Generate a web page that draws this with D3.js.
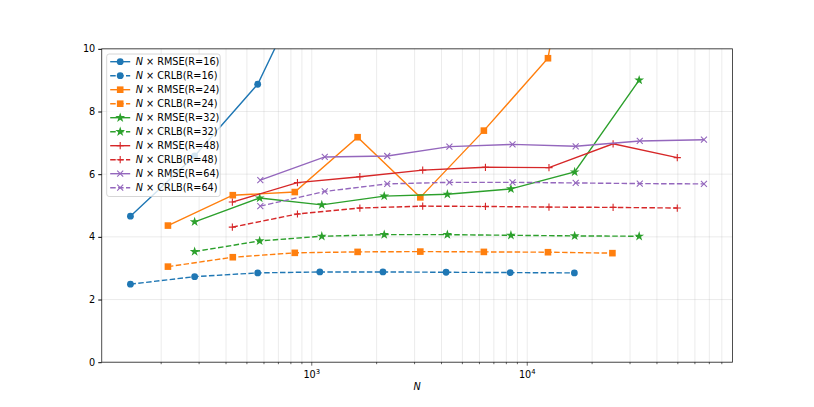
<!DOCTYPE html>
<html>
<head>
<meta charset="utf-8">
<script src="https://cdn.jsdelivr.net/npm/d3@7"></script>
<style>
  body { margin: 0; background: #fff; }
  svg { font-family: "DejaVu Sans", sans-serif; }
</style>
</head>
<body>
<svg id="chart" width="814" height="407"></svg>
<script>
// N values per R
var nR16 = [144, 286, 561, 1090, 2139, 4201, 8337, 16548];
var nR24 = [215, 430, 834, 1632, 3190, 6290, 12480, 24850];
var nR32 = [286, 573, 1113, 2169, 4259, 8400, 16600, 33070];
var nR48 = [428, 858, 1672, 3272, 6397, 12615, 25030, 49700];
var nR64 = [577, 1149, 2240, 4352, 8543, 16780, 33290, 66070];

// N x RMSE
var rmseR16 = [4.66, 6.58, 8.87, 13.0, 19.0, 27.0, 38.0, 52.0];
var rmseR24 = [4.36, 5.33, 5.43, 7.18, 5.26, 7.39, 9.70, 21.0];
var rmseR32 = [4.48, 5.24, 5.02, 5.30, 5.36, 5.53, 6.07, 9.00];
var rmseR48 = [5.11, 5.73, 5.92, 6.13, 6.22, 6.21, 6.97, 6.53];
var rmseR64 = [5.81, 6.55, 6.58, 6.88, 6.95, 6.89, 7.06, 7.10];

// N x CRLB
var crlbR16 = [2.49, 2.73, 2.85, 2.88, 2.88, 2.87, 2.86, 2.85];
var crlbR24 = [3.05, 3.35, 3.49, 3.52, 3.53, 3.52, 3.51, 3.48];
var crlbR32 = [3.53, 3.87, 4.02, 4.07, 4.07, 4.05, 4.03, 4.02];
var crlbR48 = [4.31, 4.73, 4.92, 4.98, 4.97, 4.95, 4.94, 4.92];
var crlbR64 = [4.98, 5.45, 5.69, 5.74, 5.74, 5.72, 5.70, 5.69];

var rValues = [16, 24, 32, 48, 64];
var colors = ["#1f77b4", "#ff7f0e", "#2ca02c", "#d62728", "#9467bd"];
var markers = ["circle", "square", "star", "plus", "cross"];
var yTicks = [0, 2, 4, 6, 8, 10];

var nList = [nR16, nR24, nR32, nR48, nR64];
var rmseList = [rmseR16, rmseR24, rmseR32, rmseR48, rmseR64];
var crlbList = [crlbR16, crlbR24, crlbR32, crlbR48, crlbR64];

var svg = d3.select("#chart");
var pL = 101.75, pR = 732.6, pT = 48.84, pB = 362.2;

// matplotlib style 5% margins in log space
var allN = [].concat.apply([], nList);
var lo = Math.log10(d3.min(allN)), hi = Math.log10(d3.max(allN));
var pad = (hi - lo) * 0.05;
var x = d3.scaleLog().domain([Math.pow(10, lo - pad), Math.pow(10, hi + pad)]).range([pL, pR]);
var y = d3.scaleLinear().domain([0, 10]).range([pB, pT]);

// grid
var minor = [];
for (var e = 2; e <= 4; e++) {
    for (var m = 1; m <= 9; m++) {
        var v = m * Math.pow(10, e);
        if (v >= x.domain()[0] && v <= x.domain()[1]) minor.push(v);
    }
}
var isMajor = d => Math.abs(Math.log10(d) - Math.round(Math.log10(d))) < 1e-9;
var grid = svg.append("g");
grid.selectAll(".vx").data(minor).enter().append("line")
    .attr("x1", d => x(d)).attr("x2", d => x(d))
    .attr("y1", pT).attr("y2", pB)
    .attr("stroke", "#b0b0b0").attr("stroke-opacity", 0.3).attr("stroke-width", 0.8);
grid.selectAll(".hy").data(yTicks).enter().append("line")
    .attr("x1", pL).attr("x2", pR)
    .attr("y1", d => y(d)).attr("y2", d => y(d))
    .attr("stroke", "#b0b0b0").attr("stroke-opacity", 0.3).attr("stroke-width", 0.8);

svg.append("clipPath").attr("id", "clip").append("rect")
    .attr("x", pL).attr("y", pT).attr("width", pR - pL).attr("height", pB - pT);

function drawMarker(g, kind, color) {
    if (kind === "circle") {
        g.append("circle").attr("r", 3.4).attr("fill", color);
    } else if (kind === "square") {
        g.append("rect").attr("x", -3.3).attr("y", -3.3).attr("width", 6.6).attr("height", 6.6).attr("fill", color);
    } else if (kind === "star") {
        g.append("path").attr("d", d3.symbol().type(d3.symbolStar).size(30)()).attr("fill", color);
    } else if (kind === "plus") {
        g.append("path").attr("d", "M-3.6,0H3.6M0,-3.6V3.6").attr("stroke", color).attr("stroke-width", 1.1).attr("fill", "none");
    } else {
        g.append("path").attr("d", "M-3,-3L3,3M-3,3L3,-3").attr("stroke", color).attr("stroke-width", 1.1).attr("fill", "none");
    }
}

var plot = svg.append("g").attr("clip-path", "url(#clip)");
var line = d3.line().x(d => x(d[0])).y(d => y(d[1]));
var series = [];
rValues.forEach(function(r, i) {
    series.push({ label: "RMSE", r: r, i: i, dash: null, pts: d3.zip(nList[i], rmseList[i]) });
    series.push({ label: "CRLB", r: r, i: i, dash: "5.5,2.4", pts: d3.zip(nList[i], crlbList[i]) });
});

series.forEach(function(s) {
    plot.append("path")
        .attr("d", line(s.pts))
        .attr("fill", "none")
        .attr("stroke", colors[s.i])
        .attr("stroke-width", 1.4)
        .attr("stroke-dasharray", s.dash);
    s.pts.forEach(function(p) {
        var g = plot.append("g").attr("transform", "translate(" + x(p[0]) + "," + y(p[1]) + ")");
        drawMarker(g, markers[s.i], colors[s.i]);
    });
});

// frame
svg.append("rect").attr("x", pL).attr("y", pT).attr("width", pR - pL).attr("height", pB - pT)
    .attr("fill", "none").attr("stroke", "#222").attr("stroke-width", 0.8);

// y axis
var yAxis = svg.append("g").attr("transform", "translate(" + pL + ",0)")
    .call(d3.axisLeft(y).tickValues(yTicks).tickSize(3.5).tickPadding(3));
yAxis.select(".domain").remove();
yAxis.selectAll("text").attr("font-size", 9.7).attr("fill", "#000").attr("font-family", "DejaVu Sans");

// x axis: minor ticks then majors with 10^k labels
var xg = svg.append("g").attr("transform", "translate(0," + pB + ")");
xg.selectAll(".mt").data(minor).enter().append("line")
    .attr("x1", d => x(d)).attr("x2", d => x(d))
    .attr("y1", 0).attr("y2", d => isMajor(d) ? 3.5 : 2)
    .attr("stroke", "#000").attr("stroke-width", 0.6);
var majors = minor.filter(isMajor);
var lab = xg.selectAll(".ml").data(majors).enter().append("text")
    .attr("x", d => x(d)).attr("y", 16)
    .attr("text-anchor", "middle").attr("font-size", 9.7);
lab.append("tspan").text("10");
lab.append("tspan").attr("dy", -4).attr("font-size", 6.8).text(d => Math.round(Math.log10(d)));

svg.append("text").attr("x", (pL + pR) / 2).attr("y", 390)
    .attr("text-anchor", "middle").attr("font-size", 9.7).attr("font-style", "italic").text("N");

// legend
var leg = svg.append("g").attr("transform", "translate(106.7,54)");
leg.append("rect").attr("width", 113.5).attr("height", 142.5).attr("rx", 2.5)
    .attr("fill", "#fff").attr("fill-opacity", 0.8).attr("stroke", "#ccc").attr("stroke-width", 0.8);
series.forEach(function(s, k) {
    var row = leg.append("g").attr("transform", "translate(0," + (7.7 + k * 14) + ")");
    row.append("line").attr("x1", 3.5).attr("x2", 23.5).attr("y1", 0).attr("y2", 0)
        .attr("stroke", colors[s.i]).attr("stroke-width", 1.4).attr("stroke-dasharray", s.dash);
    drawMarker(row.append("g").attr("transform", "translate(13.5,0)"), markers[s.i], colors[s.i]);
    var t = row.append("text").attr("x", 29).attr("y", 3.5).attr("font-size", 9.7);
    t.append("tspan").attr("font-style", "italic").text("N");
    t.append("tspan").text(" \u00d7 " + s.label + "(R=" + s.r + ")");
});
</script>
</body>
</html>
